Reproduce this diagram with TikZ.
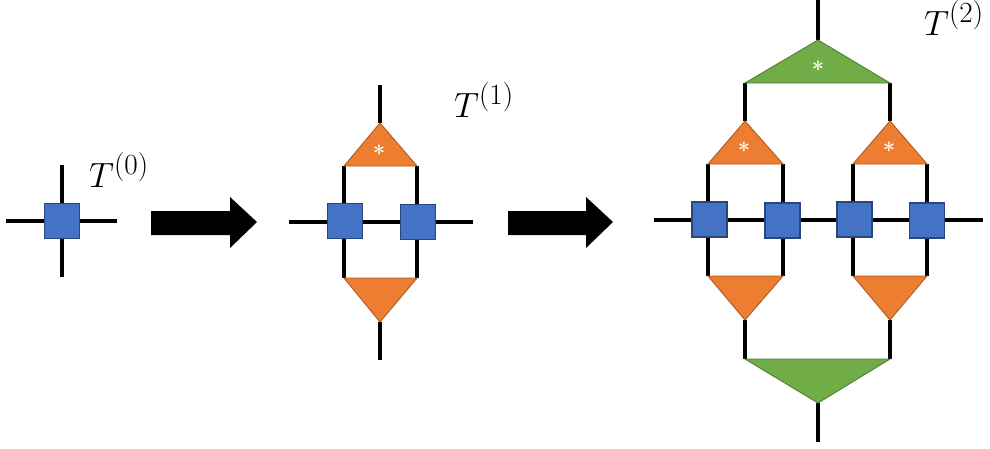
\documentclass[tikz,border=0pt]{standalone}
\usepackage{fontspec}
\usepackage{graphicx}
\pgfdeclarelayer{bg}
\pgfsetlayers{bg,main}
\definecolor{tblue}{HTML}{4472C4}
\definecolor{tblueb}{HTML}{2F528F}
\definecolor{torange}{HTML}{ED7D31}
\definecolor{toranged}{HTML}{AE5A21}
\definecolor{tgreen}{HTML}{70AD47}
\definecolor{tgreend}{HTML}{507E32}
\newcommand{\biglab}[1]{\scalebox{1.41}{\Huge$#1$}}
\tikzset{
  leg/.style={line width=3.1pt, black},
  sq/.style={draw=tblueb!85!black, fill=tblue, minimum size=35pt, inner sep=0pt, line width=1.3pt},
  otri/.style={fill=torange, draw=toranged, line width=0.9pt},
  gtri/.style={fill=tgreen, draw=tgreend, line width=0.9pt},
  star/.style={text=white, inner sep=0pt, font=\fontsize{22}{22}\selectfont\bfseries},
  lab/.style={inner sep=0pt, anchor=base west},
  bigarrow/.style={fill=black}
}
\begin{document}
\begin{tikzpicture}[x=1pt,y=-1pt]
\begin{pgfonlayer}{bg}
\fill[white] (0,0) rectangle (990,448);
\end{pgfonlayer}
\useasboundingbox (0,0) rectangle (990,448);

% ---------- panel 0 ----------
\node[sq] (a0) at (62,221) {};
\coordinate (a0n) at (62,165);
\coordinate (a0s) at (62,277);
\coordinate (a0w) at (6,221);
\coordinate (a0e) at (117,221);
\begin{pgfonlayer}{bg}
\draw[leg] (a0n) -- (a0s);
\draw[leg] (a0w) -- (a0e);
\end{pgfonlayer}
\node[lab] (t0) at (89,187) {\biglab{T^{(0)}}};

% ---------- arrows ----------
\fill[bigarrow] (151,211) -- (230,211) -- (230,197) -- (257,222) -- (230,248) -- (230,235) -- (151,235) -- cycle;
\fill[bigarrow] (508,211) -- (586,211) -- (586,197) -- (613,222) -- (586,248) -- (586,235) -- (508,235) -- cycle;

% ---------- panel 1 ----------
\coordinate (b1top) at (380,85);
\coordinate (b1ua) at (380,123);
\coordinate (b1ul) at (344,166);
\coordinate (b1ur) at (417,166);
\coordinate (b1dl) at (344,278);
\coordinate (b1dr) at (417,278);
\coordinate (b1da) at (380,322);
\coordinate (b1bot) at (380,360);
\coordinate (b1w) at (289,222);
\coordinate (b1e) at (473,222);
\node[sq] (b1) at (345,221) {};
\node[sq] (b2) at (418,222) {};
\begin{pgfonlayer}{bg}
\draw[leg] (b1top) -- (b1ua);
\draw[leg] (b1ul) -- (b1dl);
\draw[leg] (b1ur) -- (b1dr);
\draw[leg] (b1w) -- (b1e);
\draw[leg] (b1da) -- (b1bot);
\end{pgfonlayer}
\draw[otri] (b1ua) -- (b1ur) -- (b1ul) -- cycle;
\draw[otri] (b1dl) -- (b1dr) -- (b1da) -- cycle;
\node[star] (s1) at (379,153) {*};
\node[lab] (t1) at (454,117) {\biglab{T^{(1)}}};

% ---------- panel 2 ----------
\coordinate (ctop) at (818,0);
\coordinate (cga) at (818,40);
\coordinate (cgl) at (745,83);
\coordinate (cgr) at (890,83);
\coordinate (cla) at (745,121);
\coordinate (cll) at (708,164);
\coordinate (clr) at (783,164);
\coordinate (cra) at (890,121);
\coordinate (crl) at (853,164);
\coordinate (crr) at (927,164);
\coordinate (dll) at (708,276);
\coordinate (dlr) at (783,276);
\coordinate (dla) at (745,320);
\coordinate (drl) at (853,276);
\coordinate (drr) at (927,276);
\coordinate (dra) at (890,320);
\coordinate (dgl) at (745,359);
\coordinate (dgr) at (890,359);
\coordinate (dga) at (818,403);
\coordinate (cbot) at (818,442);
\coordinate (cw) at (654,220);
\coordinate (ce) at (983,220);
\node[sq] (c1) at (709.5,219.5) {};
\node[sq] (c2) at (782.5,220.5) {};
\node[sq] (c3) at (854.5,219.5) {};
\node[sq] (c4) at (927,220.5) {};
\begin{pgfonlayer}{bg}
\draw[leg] (ctop) -- (cga);
\draw[leg] (cgl) -- (cla);
\draw[leg] (cgr) -- (cra);
\draw[leg] (cll) -- (dll);
\draw[leg] (clr) -- (dlr);
\draw[leg] (crl) -- (drl);
\draw[leg] (crr) -- (drr);
\draw[leg] (cw) -- (ce);
\draw[leg] (dla) -- (dgl);
\draw[leg] (dra) -- (dgr);
\draw[leg] (dga) -- (cbot);
\end{pgfonlayer}
\draw[gtri] (cga) -- (cgr) -- (cgl) -- cycle;
\draw[otri] (cla) -- (clr) -- (cll) -- cycle;
\draw[otri] (cra) -- (crr) -- (crl) -- cycle;
\draw[otri] (dll) -- (dlr) -- (dla) -- cycle;
\draw[otri] (drl) -- (drr) -- (dra) -- cycle;
\draw[gtri] (dgl) -- (dgr) -- (dga) -- cycle;
\node[star] (s2) at (818,69) {*};
\node[star] (s3) at (744,150) {*};
\node[star] (s4) at (889,150) {*};
\node[lab] (t2) at (924,35) {\biglab{T^{(2)}}};
\end{tikzpicture}
\end{document}
